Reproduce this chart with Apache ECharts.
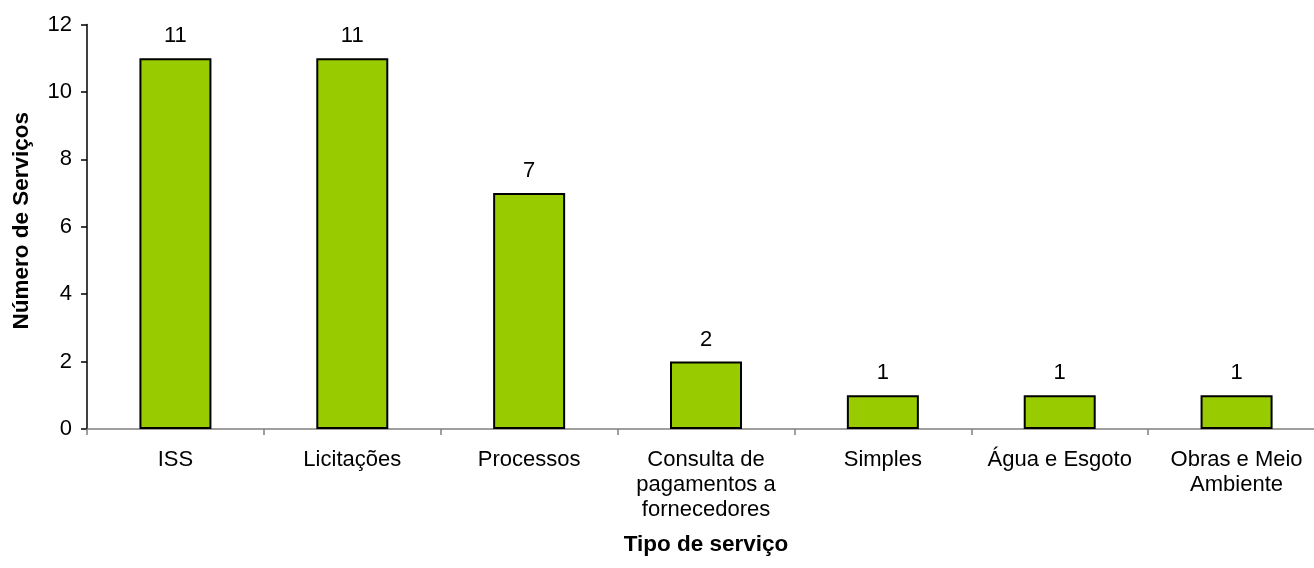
<!DOCTYPE html>
<html>
<head>
<meta charset="utf-8">
<script src="https://cdn.jsdelivr.net/npm/echarts@6/dist/echarts.min.js"></script>
<style>
  html, body { margin: 0; padding: 0; background: #fff; width: 1314px; height: 568px; overflow: hidden; }
  /* the plot runs a little past the right edge of the page */
  #chart { width: 1326px; height: 568px; }
</style>
</head>
<body>
<div id="chart"></div>
<script>
// Service types and how many services each one offers
const categories = [
  'ISS',
  'Licitações',
  'Processos',
  'Consulta de\npagamentos a\nfornecedores',
  'Simples',
  'Água e Esgoto',
  'Obras e Meio\nAmbiente'
];
const serviceCounts = [11, 11, 7, 2, 1, 1, 1];
const yTicks = [0, 2, 4, 6, 8, 10, 12];

const FONT = '"Liberation Sans", Arial, sans-serif';

const chart = echarts.init(document.getElementById('chart'), null, { renderer: 'canvas' });

chart.setOption({
  animation: false,
  backgroundColor: '#ffffff',
  grid: { left: 87, width: 1238, top: 24.5, height: 404.5, containLabel: false },
  xAxis: {
    type: 'category',
    data: categories,
    boundaryGap: true,
    name: 'Tipo de serviço',
    nameLocation: 'middle',
    nameGap: 104,
    nameTextStyle: { fontFamily: FONT, fontSize: 22.5, fontWeight: 'bold', color: '#000' },
    axisLine: { show: true, lineStyle: { color: '#808080', width: 1.5 } },
    axisTick: { show: true, length: 6, lineStyle: { color: '#808080', width: 1.5 } },
    axisLabel: {
      fontFamily: FONT, fontSize: 22, color: '#000',
      lineHeight: 25, margin: 18, interval: 0
    },
    splitLine: { show: false }
  },
  yAxis: {
    type: 'value',
    min: yTicks[0],
    max: yTicks[yTicks.length - 1],
    interval: 2,
    name: 'Número de Serviços',
    nameLocation: 'middle',
    nameGap: 54,
    nameRotate: 90,
    nameTextStyle: {
      fontFamily: FONT, fontSize: 22.5, fontWeight: 'bold', color: '#000',
      padding: [0, 0, 0, 12]
    },
    axisLine: { show: true, lineStyle: { color: '#000', width: 1.5 } },
    axisTick: { show: true, length: 6, lineStyle: { color: '#000', width: 1.5 } },
    axisLabel: { fontFamily: FONT, fontSize: 22, color: '#000', margin: 15 },
    splitLine: { show: false }
  },
  series: [{
    type: 'bar',
    data: serviceCounts,
    barWidth: 72,
    itemStyle: { color: '#99CC00', borderColor: '#000', borderWidth: 2 },
    label: {
      show: true, position: 'top', distance: 11,
      fontFamily: FONT, fontSize: 22, color: '#000'
    }
  }]
});
</script>
</body>
</html>
